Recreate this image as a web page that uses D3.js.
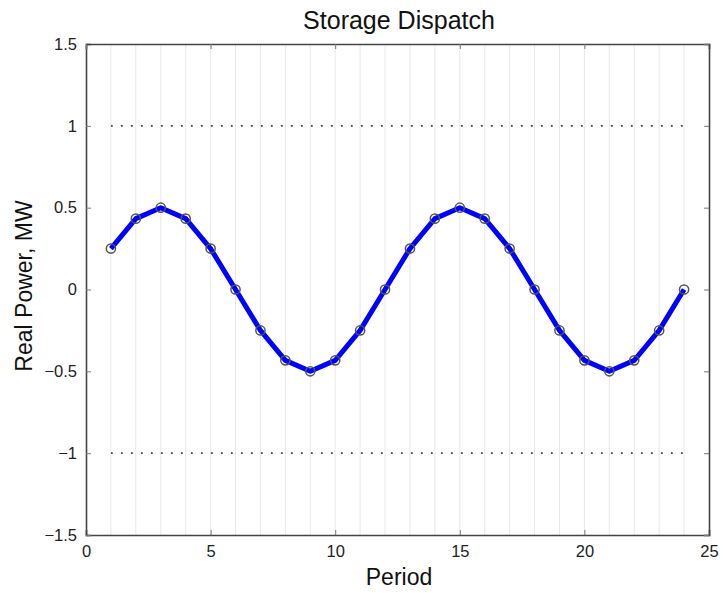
<!DOCTYPE html>
<html><head><meta charset="utf-8">
<script src="https://cdn.jsdelivr.net/npm/d3@7"></script>
<style>body{margin:0;background:#fff;} text{font-family:"Liberation Sans",Arial,sans-serif;}</style>
</head><body><svg id="c" width="723" height="593"></svg>
<script>
const periods = [1,2,3,4,5,6,7,8,9,10,11,12,13,14,15,16,17,18,19,20,21,22,23,24];
const dispatch = [0.25,0.433,0.5,0.433,0.25,0,-0.25,-0.433,-0.5,-0.433,-0.25,0,0.25,0.433,0.5,0.433,0.25,0,-0.25,-0.433,-0.5,-0.433,-0.25,0];
const limits = [1,-1];
const xTicks = [0,5,10,15,20,25];
const yTicks = [-1.5,-1,-0.5,0,0.5,1,1.5];

const svg = d3.select("#c");
const L=86, R=709, T=44, B=535;
const x = d3.scaleLinear().domain([0,25]).range([L,R]);
const y = d3.scaleLinear().domain([-1.5,1.5]).range([B,T]);
const fmt = d => d<0 ? "\u2212"+Math.abs(d) : String(d);

// vertical grid
svg.append("g").selectAll("line").data(periods).join("line")
  .attr("x1",d=>x(d)).attr("x2",d=>x(d)).attr("y1",T).attr("y2",B)
  .attr("stroke","#e8e8e8").attr("stroke-width",1);

// dotted limits
svg.append("g").selectAll("line").data(limits).join("line")
  .attr("x1",x(periods[0])).attr("x2",x(periods[periods.length-1]))
  .attr("y1",d=>y(d)).attr("y2",d=>y(d))
  .attr("stroke","#444").attr("stroke-width",1.8).attr("stroke-dasharray","1.8,8.2");

// axes
svg.append("g").attr("transform",`translate(0,${B})`)
  .call(d3.axisBottom(x).tickValues(xTicks).tickSize(-5).tickPadding(10).tickFormat(fmt));
svg.append("g").attr("transform",`translate(${L},0)`)
  .call(d3.axisLeft(y).tickValues(yTicks).tickSize(-5).tickPadding(9).tickFormat(fmt));
svg.append("g").attr("transform",`translate(0,${T})`)
  .call(d3.axisTop(x).tickValues(xTicks).tickSize(-5).tickFormat(""));
svg.append("g").attr("transform",`translate(${R},0)`)
  .call(d3.axisRight(y).tickValues(yTicks).tickSize(-5).tickFormat(""));
svg.selectAll(".domain").attr("stroke","#444").attr("stroke-width",1.6);
svg.selectAll(".tick line").attr("stroke","#777");
svg.selectAll(".tick text").attr("font-size",16.5).attr("fill","#222")
  .attr("font-family","Liberation Sans, Arial, sans-serif");

// line
const pts = periods.map((p,i)=>[p,dispatch[i]]);
svg.append("path").datum(pts)
  .attr("d",d3.line().x(d=>x(d[0])).y(d=>y(d[1])))
  .attr("fill","none").attr("stroke","#0000ff").attr("stroke-width",5).attr("stroke-linejoin","round");
svg.append("g").selectAll("circle").data(pts).join("circle")
  .attr("cx",d=>x(d[0])).attr("cy",d=>y(d[1])).attr("r",4.6)
  .attr("fill","none").attr("stroke","#555").attr("stroke-width",1.5);

// labels
svg.append("text").attr("x",399).attr("y",29).attr("text-anchor","middle")
  .attr("font-size",25).attr("fill","#111").text("Storage Dispatch");
svg.append("text").attr("x",399).attr("y",585).attr("text-anchor","middle")
  .attr("font-size",23).attr("fill","#111").text("Period");
svg.append("text").attr("transform",`translate(32,${286}) rotate(-90)`).attr("text-anchor","middle")
  .attr("font-size",23).attr("fill","#111").text("Real Power, MW");
</script></body></html>
